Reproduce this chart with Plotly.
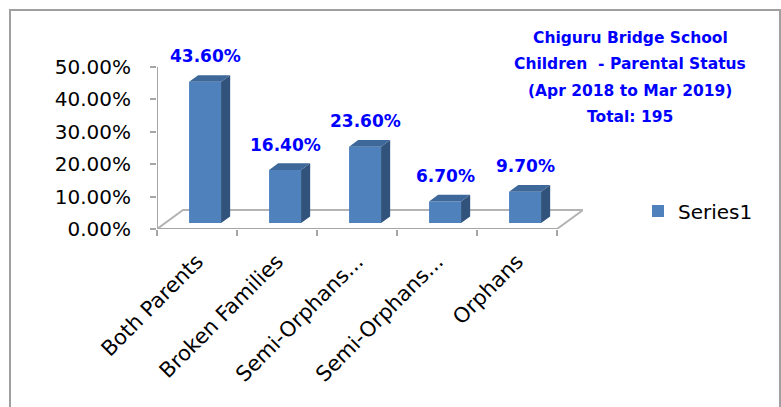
import plotly.graph_objects as go

# ---- data ----
categories = ["Both Parents", "Broken Families", "Semi-Orphans...", "Semi-Orphans...", "Orphans"]
values = [0.436, 0.164, 0.236, 0.067, 0.097]
value_labels = ["43.60%", "16.40%", "23.60%", "6.70%", "9.70%"]
y_ticks = [0.0, 0.1, 0.2, 0.3, 0.4, 0.5]
title_lines = ["Chiguru Bridge School", "Children  - Parental Status",
               "(Apr 2018 to Mar 2019)", "Total: 195"]
series_name = "Series1"

# ---- 3D geometry (in axis units) ----
DEPTH_X = 0.325      # floor depth, category units
DEPTH_Y = 0.0586     # floor depth, value units
BAR_FRONT = 0.31     # fraction of depth where bar front sits
BAR_BACK = 0.66
BAR_W = 0.4
Y_MAX = 0.5
Y_TOP = 0.59877      # extra headroom above the axis for labels

FRONT_C = "#4F81BD"
SIDE_C = "#31527A"
TOP_C = "#3E6899"
FLOOR_C = "#b3b3b3"
AXIS_C = "#a6a6a6"
FONT = "DejaVu Sans"

n = len(categories)
xs = list(range(n))
fx = BAR_FRONT * DEPTH_X
fy = BAR_FRONT * DEPTH_Y
bx = BAR_BACK * DEPTH_X
by = BAR_BACK * DEPTH_Y

fig = go.Figure()

# front faces
fig.add_trace(go.Bar(
    x=xs, y=values, base=[fy] * n,
    width=BAR_W, offset=-BAR_W / 2 + fx,
    marker=dict(color=FRONT_C, line=dict(width=0)),
    name=series_name, showlegend=True, hoverinfo="skip",
))

shapes = []
# floor
x0f, x1f = -0.5, n - 0.5
shapes.append(dict(type="path", xref="x", yref="y",
                   path=f"M{x0f},0 L{x0f + DEPTH_X},{DEPTH_Y} L{x1f + DEPTH_X},{DEPTH_Y} L{x1f},0",
                   line=dict(color=FLOOR_C, width=2), layer="below"))
# x axis front line
shapes.append(dict(type="line", xref="x", yref="y", x0=x0f, x1=x1f, y0=0, y1=0,
                   line=dict(color=AXIS_C, width=2), layer="below"))
# y axis line (stops at the top tick)
shapes.append(dict(type="line", xref="x", yref="y", x0=x0f, x1=x0f, y0=0, y1=Y_MAX,
                   line=dict(color=AXIS_C, width=2), layer="below"))

for i, v in enumerate(values):
    xl = i - BAR_W / 2 + fx
    xr = i + BAR_W / 2 + fx
    dxb = bx - fx
    dyb = by - fy
    top_f = v + fy
    # side face
    shapes.append(dict(type="path", xref="x", yref="y",
                       path=f"M{xr},{fy} L{xr},{top_f} L{xr + dxb},{top_f + dyb} L{xr + dxb},{fy + dyb} Z",
                       fillcolor=SIDE_C, line=dict(width=0), layer="above"))
    # top face
    shapes.append(dict(type="path", xref="x", yref="y",
                       path=f"M{xl},{top_f} L{xr},{top_f} L{xr + dxb},{top_f + dyb} L{xl + dxb},{top_f + dyb} Z",
                       fillcolor=TOP_C, line=dict(width=0), layer="above"))

annotations = []
# data labels
for i, (v, t) in enumerate(zip(values, value_labels)):
    annotations.append(dict(
        xref="x", yref="y", x=i + fx, y=v + 0.0966, text=f"<b>{t}</b>",
        showarrow=False, xanchor="center", yanchor="middle",
        font=dict(family=FONT, size=17, color="#0000FF"),
    ))

# outer border (paper coords; plot area spans x 157..583, y 35..229 px)
PW, PH = 426, 194
shapes.append(dict(type="rect", xref="paper", yref="paper",
                   x0=(10 - 157) / PW, x1=(780 - 157) / PW,
                   y0=(229 - 440) / PH, y1=(229 - 10) / PH,
                   line=dict(color="#a0a0a0", width=2), layer="below"))

for k, line in enumerate(title_lines):
    annotations.append(dict(
        xref="paper", yref="paper",
        x=(630 - 157) / PW, y=(229 - (38 + 26.3 * k)) / PH,
        text=f"<b>{line}</b>", showarrow=False, xanchor="center", yanchor="middle",
        font=dict(family=FONT, size=15.5, color="#0000FF"),
    ))

fig.update_layout(
    width=781, height=407, autosize=False,
    margin=dict(l=157, r=781 - 583, t=35, b=407 - 229, pad=0),
    paper_bgcolor="white", plot_bgcolor="white",
    shapes=shapes, annotations=annotations,
    barmode="overlay",
    xaxis=dict(
        type="linear", range=[-0.5, n - 0.5 + DEPTH_X],
        tickmode="array", tickvals=xs, ticktext=categories,
        tickangle=-45, showgrid=False, zeroline=False, showline=False,
        ticks="", ticklabelstandoff=15,
        tickfont=dict(family=FONT, size=21, color="#000000"),
    ),
    yaxis=dict(
        range=[0, Y_TOP], tickvals=y_ticks, tickformat=".2%",
        showgrid=False, zeroline=False, showline=False,
        ticks="outside", ticklen=6, tickcolor=AXIS_C, tickwidth=2,
        ticklabelstandoff=15,
        tickfont=dict(family=FONT, size=20, color="#000000"),
    ),
    legend=dict(x=(638 - 157) / PW, y=(229 - 211) / PH, xanchor="left", yanchor="middle",
                font=dict(family=FONT, size=20, color="#000000"), bgcolor="rgba(0,0,0,0)"),
)

# x boundary tick marks (second axis with ticks at category boundaries)
fig.update_layout(xaxis2=dict(
    overlaying="x", matches="x", anchor="y", side="bottom",
    tickmode="array", tickvals=[i - 0.5 for i in range(n + 1)],
    ticktext=[""] * (n + 1), ticks="outside", ticklen=6,
    tickcolor=AXIS_C, tickwidth=2, showgrid=False, zeroline=False, showline=False,
))
fig.add_trace(go.Scatter(x=[None], y=[None], xaxis="x2", showlegend=False, hoverinfo="skip"))

fig.write_html("out.html", config={"displayModeBar": False},
               post_script="document.body.style.margin='0';")
